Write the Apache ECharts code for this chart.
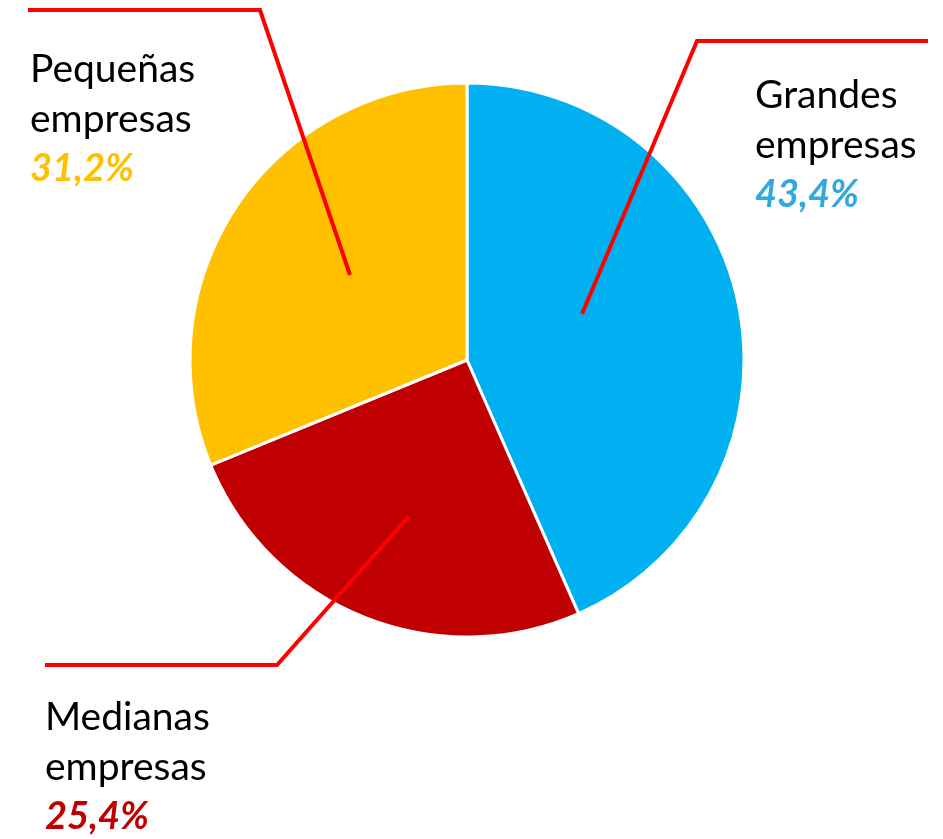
<!DOCTYPE html>
<html>
<head>
<meta charset="utf-8">
<script src="https://cdn.jsdelivr.net/npm/echarts@6/dist/echarts.min.js"></script>
<style>
html,body{margin:0;padding:0;background:#fff;}
#c{width:943px;height:839px;}
</style>
</head>
<body>
<div id="c"></div>
<script>
// Data
const categories = ['Grandes empresas', 'Medianas empresas', 'Pequeñas empresas'];
const values = [43.4, 25.4, 31.2];
const sliceColors = ['#00B0F0', '#C00000', '#FFC000'];
const pctColors = ['#31A9DF', '#C00000', '#FFC000'];

// Label placement (layout only)
const labelPos = [
  { x: 755, y: 70, line: [[582, 314], [697, 41], [928, 41]] },
  { x: 45, y: 692, line: [[409, 516], [277, 665], [45, 665]] },
  { x: 30, y: 44, line: [[350, 275], [260, 10], [28, 10]] }
];

const fmt = v => v.toFixed(1).replace('.', ',') + '%';

const common = {
  type: 'pie',
  center: [467, 360],
  radius: [0, 277],
  startAngle: 90,
  clockwise: true,
  avoidLabelOverlap: false
};

const chart = echarts.init(document.getElementById('c'), null, { renderer: 'canvas' });
chart.setOption({
  animation: false,
  backgroundColor: '#fff',
  series: [
    Object.assign({}, common, {
      z: 2,
      silent: true,
      itemStyle: { borderColor: '#fff', borderWidth: 3 },
      label: { show: false },
      labelLine: { show: false },
      data: categories.map((c, i) => ({ name: c, value: values[i], itemStyle: { color: sliceColors[i] } }))
    }),
    Object.assign({}, common, {
      z: 5,
      silent: true,
      itemStyle: { color: 'rgba(0,0,0,0)', borderWidth: 0 },
      data: categories.map((c, i) => ({
        name: c,
        value: values[i],
        label: {
          rich: {
            n: { fontFamily: 'Lato', fontSize: 39, color: '#000', lineHeight: 50 },
            p: { fontFamily: 'Lato', fontSize: 38, fontWeight: 'bold', fontStyle: 'italic', color: pctColors[i], lineHeight: 50 }
          }
        }
      })),
      label: {
        show: true,
        position: 'outside',
        formatter: p => p.name.split(' ').map(w => '{n|' + w + '}').join('\n') + '\n{p|' + fmt(p.value) + '}'
      },
      labelLine: {
        show: true,
        showAbove: true,
        lineStyle: { color: '#FF0000', width: 4 }
      },
      labelLayout: params => {
        const L = labelPos[params.dataIndex];
        return { x: L.x, y: L.y, align: 'left', verticalAlign: 'top', labelLinePoints: L.line };
      }
    })
  ]
});
</script>
</body>
</html>
